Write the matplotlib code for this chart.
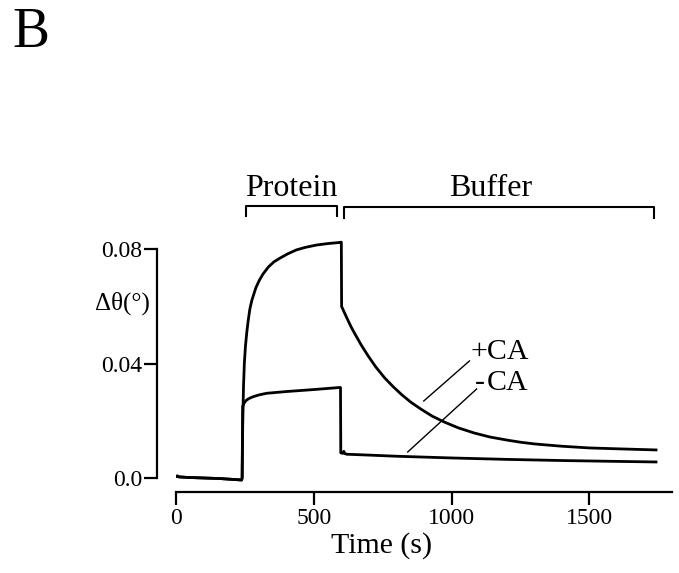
import matplotlib
matplotlib.use('Agg')
import matplotlib.pyplot as plt

FONT = "Liberation Serif"
plt.rcParams['font.family'] = [FONT, 'DejaVu Serif']

# readings: time (s) and delta theta (deg)
t_plus = [0, 5, 10, 40, 100, 160, 238, 240, 242, 245, 248, 252, 257, 262, 268,
          275, 280, 290, 302, 316, 335, 355, 377, 405, 437, 470, 510, 550, 594,
          600,
          601, 605, 612, 624, 636, 649, 672, 697, 725, 757, 787, 818, 852, 890,
          930, 975, 1025, 1083, 1140, 1204, 1250, 1301, 1350, 1400, 1500, 1600,
          1742]
v_plus = [0.0005, 0.0007, 0.0004, 0.0002, 0.0, -0.0002, -0.0007, 0.0, 0.018,
          0.032, 0.040, 0.046, 0.051, 0.055, 0.059, 0.0620, 0.0635, 0.0665,
          0.0690, 0.0713, 0.0737, 0.0755, 0.0768, 0.0783, 0.0797, 0.0806,
          0.0814, 0.0819, 0.0823, 0.0824,
          0.0599, 0.0591, 0.0576, 0.0551, 0.0527, 0.0504, 0.0465, 0.0427,
          0.0388, 0.0350, 0.0320, 0.0292, 0.0265, 0.0240, 0.0216, 0.0195,
          0.0175, 0.0157, 0.0143, 0.0132, 0.0125, 0.0119, 0.0115, 0.0111,
          0.0105, 0.0102, 0.0098]

t_minus = [0, 5, 10, 40, 100, 160, 238, 240, 242, 245, 248, 252, 256, 262, 270,
           280, 300, 329, 400, 500, 591, 597, 598, 605, 609, 613, 620, 700,
           800, 1000, 1200, 1400, 1600, 1742]
v_minus = [0.0005, 0.0007, 0.0004, 0.0002, 0.0, -0.0002, -0.0007, 0.0, 0.0250,
           0.0257, 0.0263, 0.0268, 0.0272, 0.0276, 0.0280, 0.0284, 0.0290,
           0.0296, 0.0302, 0.0309, 0.0316, 0.0316, 0.0088, 0.0086, 0.0093,
           0.0085, 0.0083, 0.0080, 0.0076, 0.0070, 0.0065, 0.0061, 0.0058,
           0.0056]

x_ticks = [0, 500, 1000, 1500]
y_ticks = [0.0, 0.04, 0.08]
y_tick_labels = ["0.0", "0.04", "0.08"]

# phase brackets: (label, start, end)
phases = [("Protein", 255, 583), ("Buffer", 608, 1734)]


fig = plt.figure(figsize=(6.79, 5.73), dpi=100)
ax = fig.add_axes([176 / 679, 1 - 492.3 / 573, 496 / 679, 300.5 / 573])

ax.plot(t_plus, v_plus, color="black", linewidth=2.0, solid_joinstyle="round")
ax.plot(t_minus, v_minus, color="black", linewidth=2.0, solid_joinstyle="round")

ax.set_xlim(0, 1800)
ax.set_ylim(-0.005, 0.1)

for side in ("top", "right"):
    ax.spines[side].set_visible(False)
ax.spines["left"].set_position(("outward", 13.7))
ax.spines["left"].set_bounds(0, 0.08)
ax.spines["bottom"].set_bounds(0, 1800)
for side in ("left", "bottom"):
    ax.spines[side].set_linewidth(1.6)

ax.set_xticks(x_ticks)
ax.set_yticks(y_ticks)
ax.set_yticklabels(y_tick_labels)
ax.tick_params(axis="both", direction="out", length=9.5, width=1.6,
               labelsize=17)
ax.tick_params(axis="y", pad=1)
ax.tick_params(axis="x", pad=2)

ax.set_xlabel("Time (s)", fontsize=21.5, labelpad=2, x=0.415)

# brackets over the trace
for i, (name, a, b) in enumerate(phases):
    top = 0.0952 if i == 0 else 0.0948
    low = 0.0917 if i == 0 else 0.0909
    ax.plot([a, a, b, b], [low, top, top, low], color="black",
            linewidth=1.5, clip_on=False)
    ax.text((a + b) / 2 + (0 if i == 0 else -30), 0.0985, name,
            ha="center", va="baseline", fontsize=23)

# curve labels with leader lines
ax.text(1068, 0.0440, "+CA", ha="left", va="center", fontsize=21.5)
ax.text(1084, 0.0333, "-", ha="left", va="center", fontsize=21.5)
ax.text(1128, 0.0333, "CA", ha="left", va="center", fontsize=21.5)
ax.plot([1065, 899], [0.0409, 0.0269], color="black", linewidth=1.0)
ax.plot([1091, 841], [0.0311, 0.0091], color="black", linewidth=1.0)

fig.text(150 / 679, 1 - 303 / 573, "Δθ(°)", ha="right", va="center",
         fontsize=18)
fig.text(12 / 679, 1 - 47 / 573, "B", ha="left", va="baseline", fontsize=40)

fig.savefig("out.png", dpi=100)
